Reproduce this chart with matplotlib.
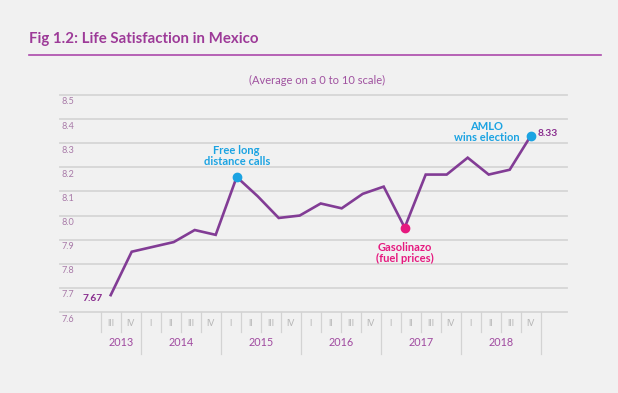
import numpy as np
import matplotlib
matplotlib.use("Agg")
import matplotlib.pyplot as plt
import matplotlib.transforms as mtransforms
from matplotlib.lines import Line2D

plt.rcParams["font.family"] = ["Lato", "DejaVu Sans"]

# data (quarterly average, 0-10 scale)
quarters = ["III", "IV"] + ["I", "II", "III", "IV"] * 5
years = ["2013", "2014", "2015", "2016", "2017", "2018"]
quarters_per_year = [2, 4, 4, 4, 4, 4]
satisfaction = [7.67, 7.85, 7.87, 7.89, 7.94, 7.92, 8.16, 8.08, 7.99, 8.00,
                8.05, 8.03, 8.09, 8.12, 7.95, 8.17, 8.17, 8.24, 8.17, 8.19, 8.33]
y_ticks = [7.6, 7.7, 7.8, 7.9, 8.0, 8.1, 8.2, 8.3, 8.4, 8.5]

# (point index, label)
events = [
    (6, "Free long\ndistance calls"),
    (14, "Gasolinazo\n(fuel prices)"),
    (20, "AMLO\nwins election"),
]

bg = "#f1f1f1"
purple = "#9d3a98"
line_col = "#823c95"
blue = "#1ba3e2"
pink = "#e6197f"
grid_col = "#d6d6d6"

W, H = 618, 393
fig = plt.figure(figsize=(W / 100, H / 100), dpi=100, facecolor=bg)

# axes box in pixels: x 60..567, y 95..312 (from top)
ax = fig.add_axes([60 / W, (H - 312) / H, 507 / W, 217 / H])
ax.set_facecolor(bg)
n_q = len(quarters)
ax.set_xlim(-2.535, 22.815)
ax.set_ylim(y_ticks[0], y_ticks[-1])
for s in ax.spines.values():
    s.set_visible(False)
ax.set_xticks([])
ax.set_yticks([])

for v in y_ticks:
    ax.axhline(v, color=grid_col, lw=1.3, zorder=1, clip_on=False)
    lab_tr = mtransforms.offset_copy(ax.transData, fig=fig, x=0, y=-7, units="dots")
    lab_tr = mtransforms.blended_transform_factory(ax.transAxes, lab_tr)
    ax.text(0.002, v, f"{v:.1f}", transform=lab_tr, ha="left", va="center",
            fontsize=6.6, color="#a87aa8")

# 21 quarters of data spread over the 22 labelled slots, as in the original
x_pos = np.linspace(0, n_q - 1, len(satisfaction))
ax.plot(x_pos, satisfaction, color=line_col, lw=1.9, zorder=3,
        solid_joinstyle="miter", clip_on=False)

# event markers and labels
ev_style = {
    6: dict(color=blue, xytext=(0, 21), ha="center"),
    14: dict(color=pink, xytext=(0, -25), ha="center"),
    20: dict(color=blue, xytext=(-44, 4), ha="center"),
}
for idx, text in events:
    st = ev_style[idx]
    ax.plot(x_pos[idx], satisfaction[idx], "o", ms=6, color=st["color"],
            zorder=4, clip_on=False)
    ax.annotate(text, (x_pos[idx], satisfaction[idx]), xytext=st["xytext"],
                textcoords="offset pixels", ha=st["ha"], va="center",
                multialignment="center", fontsize=8, fontweight="bold",
                color=st["color"], linespacing=1.0)

# first / last values
ax.annotate(f"{satisfaction[0]:.2f}", (x_pos[0], satisfaction[0]), xytext=(-8, -3),
            textcoords="offset pixels", ha="right", va="center", fontsize=7.4,
            fontweight="bold", color="#8a2f8f")
ax.annotate(f"{satisfaction[-1]:.2f}", (x_pos[-1], satisfaction[-1]), xytext=(7, 2),
            textcoords="offset pixels", ha="left", va="center", fontsize=7.4,
            fontweight="bold", color="#8a2f8f")

# quarter / year table under the axis
tr = mtransforms.blended_transform_factory(ax.transData, ax.transAxes)
px = 1 / 217
year_edges = np.cumsum([0] + quarters_per_year) - 0.5
for i in range(n_q + 1):
    edge = i - 0.5
    long_line = edge in year_edges[1:]
    y1 = -42 * px if long_line else -20 * px
    ax.add_line(Line2D([edge, edge], [0, y1], transform=tr, color="#d3d3d3",
                       lw=0.9, clip_on=False))
for i, q in enumerate(quarters):
    ax.text(i, -12 * px, q, transform=tr, ha="center", va="center",
            fontsize=6.3, color="#b5b5b5")
for k, yr in enumerate(years):
    mid = (year_edges[k] + year_edges[k + 1]) / 2
    ax.text(mid, -31 * px, yr, transform=tr, ha="center", va="center",
            fontsize=7.8, color="#a04aa0")

# title, rule and subtitle
fig.text(29 / W, 1 - 42.5 / H, "Fig 1.2: Life Satisfaction in Mexico",
         ha="left", va="baseline", fontsize=10.8, fontweight="bold", color=purple)
fig.add_artist(Line2D([29.3 / W, 601 / W], [1 - 54.7 / H, 1 - 54.7 / H],
                      color="#ac4aab", lw=1.2))
fig.text(317 / W, 1 - 80 / H, "(Average on a 0 to 10 scale)", ha="center",
         va="center", fontsize=8, color="#a052a0")

fig.savefig("out.png", dpi=100, facecolor=bg)
